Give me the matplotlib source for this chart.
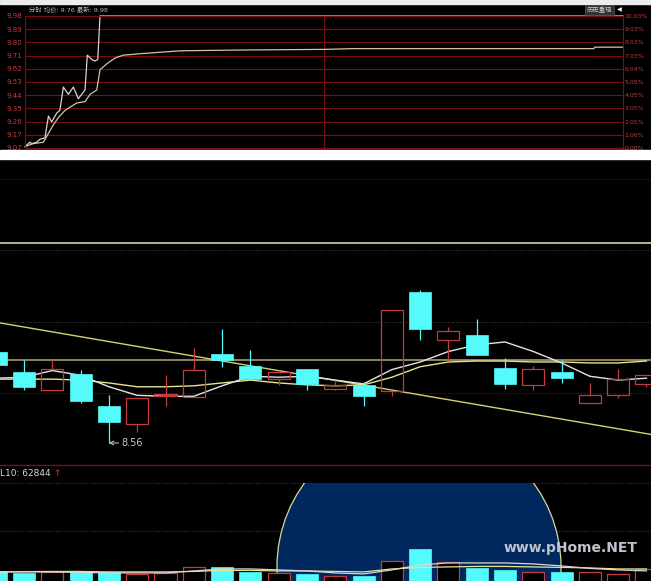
import matplotlib
matplotlib.use('Agg')
import matplotlib.pyplot as plt
from matplotlib.patches import Rectangle, Ellipse
from matplotlib.lines import Line2D
import numpy as np

# DejaVu 先, 中文字用 Noto CJK 補上
plt.rcParams['font.family'] = ['DejaVu Sans', 'Noto Sans CJK SC']
plt.rcParams['axes.unicode_minus'] = False

W, H = 651, 581

# ---- 分时 (minute, price) ----
price_t = [0, 2, 2.7, 4.7, 6, 8, 9.4, 10.7, 12.7, 14, 15.4, 17.4, 19.4, 21.4, 24.1, 25, 26.8, 28.1, 29.2, 30.1, 240]
price_v = [9.08, 9.11, 9.10, 9.11, 9.13, 9.14, 9.29, 9.25, 9.31, 9.33, 9.49, 9.44, 9.49, 9.41, 9.47, 9.71, 9.68, 9.67, 9.68, 9.98, 9.98]
avg_t = [0, 3.3, 7.4, 8.7, 11.4, 13.4, 16.1, 20.7, 24.1, 26.1, 28.8, 30.1, 32.8, 36.1, 39.4, 46.2, 54.2, 62.2, 83.5, 120.4, 131.6, 228.3, 228.6, 240]
avg_v = [9.08, 9.10, 9.11, 9.15, 9.23, 9.28, 9.33, 9.38, 9.39, 9.44, 9.47, 9.61, 9.65, 9.69, 9.71, 9.72, 9.73, 9.74, 9.745, 9.75, 9.755, 9.755, 9.765, 9.765]
left_labels = ['9.07', '9.17', '9.26', '9.35', '9.44', '9.53', '9.62', '9.71', '9.80', '9.89', '9.98']
right_labels = ['0.00%', '1.06%', '2.05%', '3.05%', '4.05%', '5.05%', '6.04%', '7.03%', '8.03%', '9.03%', '10.03%']

# ---- 日K ----
opens = [9.51, 9.31, 9.12, 9.28, 8.95, 8.76, 9.05, 9.04, 9.49, 9.37, 9.23, 9.34, 9.13, 9.17, 9.11, 10.14, 9.64, 9.69, 9.35, 9.17, 9.31, 8.98, 9.06, 9.18]
closes = [9.38, 9.15, 9.34, 9.00, 8.78, 9.03, 9.07, 9.33, 9.43, 9.23, 9.30, 9.18, 9.17, 9.05, 9.96, 9.76, 9.74, 9.48, 9.18, 9.34, 9.24, 9.06, 9.23, 9.27]
highs = [9.54, 9.43, 9.43, 9.33, 9.06, 9.03, 9.27, 9.56, 9.76, 9.54, 9.33, 9.34, 9.22, 9.20, 9.96, 10.17, 9.78, 9.86, 9.45, 9.37, 9.43, 9.19, 9.34, 9.27]
lows = [9.35, 9.12, 9.12, 8.98, 8.56, 8.68, 8.95, 9.04, 9.36, 9.22, 9.17, 9.12, 9.12, 8.95, 9.05, 9.64, 9.43, 9.48, 9.13, 9.12, 9.19, 8.98, 9.03, 9.15]
ma5 = [9.24, 9.25, 9.32, 9.27, 9.15, 9.06, 9.05, 9.05, 9.16, 9.26, 9.25, 9.26, 9.22, 9.18, 9.33, 9.41, 9.52, 9.59, 9.62, 9.52, 9.40, 9.26, 9.22, 9.24]
ma10 = [9.23, 9.23, 9.23, 9.22, 9.19, 9.15, 9.15, 9.16, 9.19, 9.22, 9.19, 9.17, 9.16, 9.17, 9.25, 9.36, 9.41, 9.42, 9.42, 9.41, 9.41, 9.40, 9.40, 9.42]
trend_x = [0.15, 23.16]
trend_y = [9.82, 8.65]
solid_levels = [10.66, 9.43]
dot_levels = [11.33, 10.59, 9.83, 9.085]

# ---- 成交量 ----
vol = [62800, 59200, 60000, 60000, 60000, 56300, 57900, 70900, 72200, 61300, 57900, 55700, 52700, 52700, 84500, 109900, 83000, 70000, 65000, 60000, 60000, 61300, 55700, 66500]
vol_ma5 = [60680, 60680, 60680, 59590, 58510, 58510, 58510, 62840, 67180, 67180, 65010, 62840, 58510, 56340, 65010, 75850, 80180, 80180, 80180, 78010, 73680, 68260, 65010, 62840]
vol_ma10 = [60680, 61330, 61760, 61760, 60680, 60680, 60680, 61760, 63930, 63930, 62840, 62840, 61760, 60680, 67180, 70430, 71510, 72590, 72590, 71510, 70430, 69340, 67180, 67180]

CYAN = '#55fbfb'
RED = '#c43c3c'
GRID_RED = '#7a0d0d'


def box(x0, y0, x1, y1):
    # pixel box -> figure fraction
    return [x0 / W, 1 - y1 / H, (x1 - x0) / W, (y1 - y0) / H]


def main():
    fig = plt.figure(figsize=(W / 100, H / 100), dpi=100)
    fig.patch.set_facecolor('black')

    # 截图的白边
    fig.add_artist(Rectangle((0, 1 - 4 / H), 1, 4 / H, transform=fig.transFigure, color='#ececec'))
    fig.add_artist(Rectangle((0, 1 - 159 / H), 1, 9 / H, transform=fig.transFigure, color='white'))

    # ===== 分时 =====
    ax1 = fig.add_axes(box(25, 16, 623, 148))
    ax1.set_facecolor('black')
    ax1.set_xlim(0, 240)
    ax1.set_ylim(9.07, 9.98)
    levels = np.linspace(9.07, 9.98, 11)
    ax1.set_yticks(levels)
    ax1.set_yticklabels(left_labels)
    ax1.set_xticks([])
    for lv in levels:
        ax1.axhline(lv, color=GRID_RED, lw=0.9, zorder=1)
    ax1.axvline(120, color=GRID_RED, lw=0.9, zorder=1)
    ax1.tick_params(axis='y', length=0, labelsize=5, labelcolor='#c83a3a', pad=2)
    for s in ax1.spines.values():
        s.set_color(GRID_RED)
    ax1r = ax1.twinx()
    ax1r.set_ylim(9.07, 9.98)
    ax1r.set_yticks(levels)
    ax1r.set_yticklabels(right_labels)
    ax1r.tick_params(axis='y', length=0, labelsize=4.5, labelcolor='#c83a3a', pad=1)
    for s in ax1r.spines.values():
        s.set_color(GRID_RED)
    ax1.plot(avg_t, avg_v, color='#cfc8a0', lw=0.9, zorder=3, clip_on=False)
    ax1.plot(price_t, price_v, color='#d4d4d4', lw=0.9, zorder=4, clip_on=False)

    fig.text(29 / W, 1 - 10 / H, '分时 均价: 9.76 最新: 9.98', fontsize=4.6, color='#b8b8b8', va='center')
    fig.text(612 / W, 1 - 10 / H, '历史重现', fontsize=4.6, color='#d0d0d0', va='center', ha='right',
             bbox=dict(boxstyle='square,pad=0.25', fc='#333333', ec='#555555', lw=0.5))
    fig.text(617 / W, 1 - 10 / H, '◀', fontsize=4.5, color='white', va='center')

    # ===== 日K =====
    ax2 = fig.add_axes(box(0, 159, 651, 463))
    ax2.set_xlim(0.15, 23.16)
    ax2.set_ylim(8.35, 11.54)
    ax2.axis('off')
    for lv, c in zip(dot_levels, ['#5a1414', '#3c3c3c', '#3c3c3c', '#6a1414']):
        ax2.axhline(lv, color=c, lw=0.8, ls=(0, (1, 1.5)), zorder=1)
    ax2.axhline(solid_levels[0], color='#d8d2a8', lw=1.2, zorder=1)
    ax2.axhline(solid_levels[1], color='#a89c6a', lw=1.2, zorder=1)
    ax2.plot(trend_x, trend_y, color='#d8d070', lw=1, zorder=2)
    x = np.arange(len(opens))
    ax2.plot(x, ma10, color='#e6e48c', lw=1, zorder=2)
    ax2.plot(x, ma5, color='#e4e4e4', lw=1, zorder=2)

    bw = 0.78
    for i in x:
        o, c, hi, lo = opens[i], closes[i], highs[i], lows[i]
        if c >= o:
            ax2.vlines(i, c, hi, color=RED, lw=0.9, zorder=3)
            ax2.vlines(i, lo, o, color=RED, lw=0.9, zorder=3)
            ax2.add_patch(Rectangle((i - bw / 2, o), bw, c - o, fc='none', ec=RED, lw=0.9, zorder=3))
        else:
            ax2.vlines(i, lo, hi, color=CYAN, lw=0.9, zorder=3)
            ax2.add_patch(Rectangle((i - bw / 2, c), bw, o - c, fc=CYAN, ec=CYAN, lw=0.5, zorder=3))

    # 最低价标注
    low_i = int(np.argmin(lows))
    ax2.annotate('8.56', xy=(low_i, lows[low_i]), xytext=(9, 0), textcoords='offset points',
                 fontsize=7, color='#c8c8c8', va='center',
                 arrowprops=dict(arrowstyle='->', color='#c8c8c8', lw=0.7, shrinkA=0, shrinkB=0))

    # 分隔线
    fig.add_artist(Line2D([0, 1], [1 - 465 / H] * 2, transform=fig.transFigure, color='#6e1616', lw=1))
    fig.text(0, 1 - 473 / H, 'L10: 62844', fontsize=6.5, color='#d8d8d8', va='center')
    fig.text(53 / W, 1 - 473 / H, '↑', fontsize=6.5, color='#e03030', va='center')

    # ===== 成交量 =====
    ax3 = fig.add_axes(box(0, 483, 651, 581))
    ax3.set_xlim(0.15, 23.16)
    ax3.set_ylim(41000, 253500)
    ax3.axis('off')
    ax3.axhline(253500, color='#3c3c3c', lw=0.8, ls=(0, (1, 1.5)), clip_on=False, zorder=1)
    ax3.axhline(149500, color='#3c3c3c', lw=0.8, ls=(0, (1, 1.5)), zorder=1)
    # 圈出的放量区域
    ax3.add_patch(Ellipse((14.96, 71500), 10.04, 615400, fc='#00275e', ec='#d8dc98', lw=0.9, zorder=1))
    for i in x:
        if closes[i] >= opens[i]:
            ax3.add_patch(Rectangle((i - bw / 2, 0), bw, vol[i], fc='black', ec=RED, lw=0.9, zorder=2))
        else:
            ax3.add_patch(Rectangle((i - bw / 2, 0), bw, vol[i], fc=CYAN, ec=CYAN, lw=0.5, zorder=2))
    ax3.plot(x, vol_ma10, color='#e6e48c', lw=0.9, zorder=3)
    ax3.plot(x, vol_ma5, color='#d8d8d8', lw=0.9, zorder=3)

    fig.text(571 / W, 1 - 548 / H, 'www.pHome.NET', fontsize=10, fontweight='bold',
             color='#bfc4cc', ha='center', va='center')

    fig.savefig('out.png', dpi=100, facecolor=fig.get_facecolor())


if __name__ == '__main__':
    main()
